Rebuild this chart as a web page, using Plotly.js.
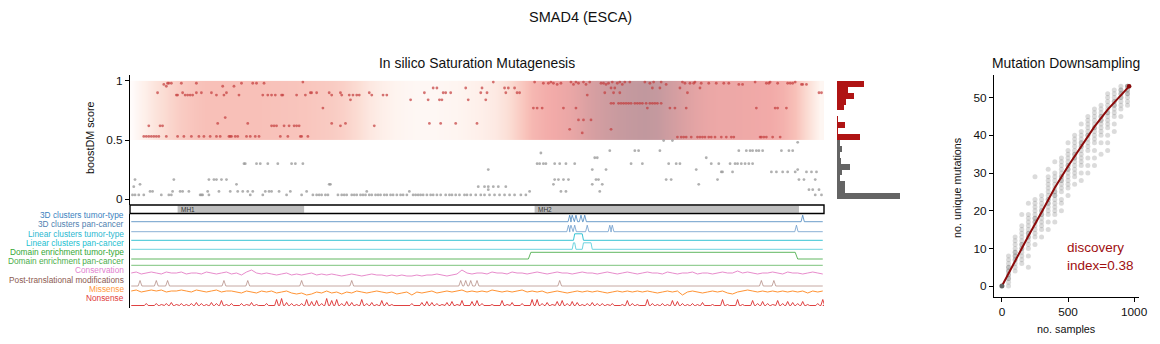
<!DOCTYPE html>
<html><head><meta charset="utf-8">
<script src="https://cdn.plot.ly/plotly-3.0.1.min.js"></script>
<style>html,body{margin:0;padding:0;background:#fff}#chart{width:1160px;height:344px}</style>
</head><body><div id="chart"></div>
<script>
const W = 1160, H = 344;
const FONT = 'Liberation Sans, Arial, sans-serif';

// ---------------- data ----------------
const proteinLength = 552;
const domainNames = ['MH1', 'MH2'];
const domainStart = [37, 322];
const domainEnd = [138, 533];

// background shading level every 10 aa (0..550)
const shadeStep = 10;
const shadeLevel = [0.02,0.12,0.24,0.34,0.42,0.47,0.5,0.5,0.5,0.5,0.5,0.49,0.48,0.47,0.46,0.44,0.42,0.38,0.3,0.2,
  0.13,0.09,0.07,0.06,0.06,0.07,0.08,0.1,0.13,0.18,0.27,0.42,0.56,0.62,0.66,0.7,0.76,0.84,0.9,0.95,
  0.98,1.0,0.97,0.88,0.8,0.74,0.7,0.68,0.68,0.67,0.66,0.65,0.6,0.5,0.28,0.07];

// saturation mutagenesis: boostDM score rows and the positions having that score
const rowScore = [0.99,0.98,0.97,0.955,0.94,0.9,0.88,0.84,0.81,0.77,0.69,0.67,0.64,0.62,0.59,0.56,0.53,0.525,
  0.495,0.48,0.41,0.39,0.35,0.30,0.25,0.23,0.165,0.125,0.105,0.08,0.065,0.035];
const rowPos = [
  [137,289,322,335,351,355,361,366,384,390,394,398,410,417,423,440,450,498,510,530],
  [29,30,32,40,52,88,97,100,106,329,333,337,343,357,375,377,381,388,414,442,446,449,455,461,467,473,477,507,509,516,524,526,528],
  [26,340,353,363,379,392,427,485,488,535,536,539],
  [28,73,82],
  [241,244,267,280,298,301,306,383,386,416,422,438,454],
  [21,41,52,56,64,76,143,144,148,158,167,190,234,249,251,255,279,284,299,308,310,378,385,390,444,549,551],
  [36,37,43,45,47,49,68,74,86,105,109,112,115,120,121,132,139,160,168,174,177,180,182,192,201,204,364],
  [175,223,237,246,248,269,283],
  [383,385,389,391,393,395,397,399,402,404,406,408,411,414,416,418,420,423],
  [153,321,324,328,345,355,412,430,434,443,499,514,516,523],
  [75],
  [357,361,367],
  [69,93,160,171,238,247,259,276],
  [14,23,25,112,114,116,122,126,130,132,134,167,194],
  [350,383],
  [360],
  [10,12,14,16,18,20,22,28,37,42,48,54,58,63,68,71,78,79,80,83,85,92,95,99,102,119,125,135,136,141],
  [436,439,441,443,447,452,454,456,458,461,463,466,471,475,479,481,502,503,505,507,512,518],
  [425,432],
  [532],
  [382,402,405,422,485,491,494,496,499,501,504,519,525,528],
  [327],
  [370,372,459],
  [90,91,100,103,109,117,128,131,137,324,326,329,331,338,342,347,354,399,408,429,435,438,463,469,478,482,484,487,490,493,496],
  [285,368,379,451,532],
  [471,472,480,511,515,520,524,530,539,543,547],
  [3,34,62,66,68,72,76,338,341,345,349,371,373,427,431,468,533,537,546],
  [7,84,158,159,337,368,376,453],
  [2,277,282,285,289,293,299],
  [285,541,544,549],
  [15,17,33,39,41,46,61,70,79,85,89,93,97,107,110,112,118,127,140,188,222,318,343,347,374],
  [1,3,6,10,24,30,32,55,56,57,62,95,105,124,136,145,148,150,152,155,157,165,168,170,172,176,178,180,183,185,187,190,192,195,197,199,202,204,207,209,212,215,217,220,225,227,229,231,233,236,239,241,244,247,251,254,256,259,262,266,268,271,275,279,282,286,290,294,298,302,306,311,315,546,551]
];

// histogram of scores (bins of 0.05 from 0 to 1, bottom to top)
const histBinWidth = 0.05;
const histCounts = [47,6,6,2,4,10,3,2,4,2,17,1,6,1,0,5,7,13,8,20];

// tracks
const trackNames = ['3D clusters tumor-type','3D clusters pan-cancer','Linear clusters tumor-type','Linear clusters pan-cancer',
  'Domain enrichment tumor-type','Domain enrichment pan-cancer','Conservation','Post-translational modifications','Missense','Nonsense'];
const clusters3dTumor = [350,352,355,359,362,536];
const clusters3dPan = [349,351,354,364,382,384,531];
const linearTumor = [[354,360]];
const linearPan = [[353,354],[361,367]];
const domainTumor = [[319,530]];
const domainPan = [];
const ptmSites = [7,20,29,74,93,136,176,263,267,271,276,342,503,513];
const trackStep = 4;
const conservation = [1,2,0,1,2,1,0,2,1,1, 2,0,1,1,0,2,1,0,1,2, 0,1,-1,2,4,1,0,1,0,-1, 0,1,-1,0,-1,0,1,-1,0,-1,
  0,-1,-2,-1,0,-1,-2,-1,0,-1, -1,-2,-1,-2,-1,-2,-2,-1,-2,-1, -1,0,-1,-2,-1,0,4,1,0,1, 1,0,2,1,1,0,2,1,1,0,
  1,2,1,0,1,2,1,1,0,1, 2,1,1,0,1,2,1,0,1,2, 1,0,1,2,1,1,0,2,1,0, 1,1,2,0,1,1,0,1,2,1,
  1,3,1,2,1,0,1,1,2,1, 0,2,1,1,0,1,2,1,0];
const missense = [1,2,0,1,2,1,2,0,1,1, 2,1,0,2,1,0,1,2,0,1, 1,0,-1,1,0,-1,1,0,1,-1, 0,1,-1,-2,-1,-3,-2,0,-1,1,
  -1,0,-2,0,-1,1,0,-1,0,1, 0,-1,0,-2,-1,0,-3,0,-1,0, 1,-1,0,1,0,1,2,0,1,0, 1,0,2,1,0,1,0,1,2,0,
  1,0,1,-1,0,1,0,-1,0,1, 0,1,0,1,0,-1,0,1,0,1, 0,1,0,1,0,-1,0,1,0,1, -3,0,1,0,-1,0,1,0,1,-1,
  -2,0,1,2,1,0,1,0,1,0, 1,0,1,0,1,-1,1,0,1];
const nonsense = [0,0,0,2,0, 2,1,2,3,1,2,1,2,3,2,1,3,2,5,1, 2,0,2,1,3,1,0,2,0,6, 7,3,2,1,2,6,4,5,2,7,
  5,6,2,4,3,1,6,2,3,1, 5,3,1,0,0,0,2,0,3,4, 3,2,1,3,4,1,5,0,4,5, 2,0,1,0,5,1,3,0,2,0,
  6,6,2,3,1,4,5,2,4,3, 1,2,3,2,2,1,2,0,1,5, 2,1,0,6,2,1,2,1,5,4, 2,1,2,1,3,0,1,0,6,1,
  0,6,1,0,5,2,4,2,1,5, 2,4,3,2,4,1,0,2,6];

// mutation downsampling
const dsSamples = [0,50,100,150,200,250,300,350,400,450,500,550,600,650,700,750,800,850,900,950,962];
const dsValues = [
  [0,0,0,0],
  [0,1,2,2,3,3,4,4,5,5,6,7,8],
  [4,5,6,7,7,8,8,9,9,10,11,12,13],
  [6,7,8,9,10,10,11,11,12,13,14,15,16,19],
  [5,8,10,11,12,13,13,14,14,15,16,17,18,19,22],
  [11,13,14,15,16,17,17,18,18,19,20,21,22,23,29],
  [13,15,16,17,18,19,19,20,20,21,22,23,24],
  [15,17,19,20,21,22,22,23,23,24,25,26,27,28,29,31],
  [17,19,20,21,22,23,24,24,25,25,26,27,28,29,30,33],
  [20,22,23,25,26,27,28,28,29,29,30,31,32,33,34],
  [24,26,27,28,29,30,31,31,32,32,33,34,35,36,38],
  [27,29,30,31,32,33,34,34,35,35,36,37,38,39,40],
  [28,30,32,33,34,35,36,37,37,38,38,39,40,41,43],
  [30,32,34,36,37,38,39,40,40,41,42,43,44,45],
  [32,34,36,38,39,40,41,42,42,43,44,45,46,47],
  [35,38,40,41,42,43,44,44,45,45,46,47,48],
  [36,38,40,42,43,44,45,46,46,47,48,49,50,51],
  [41,43,45,46,47,48,48,49,49,50,51,52],
  [45,47,48,49,50,50,51,51,52,52,53],
  [48,49,50,51,51,52,52,53,53,53],
  [53]
];
const dsCurveX = [0,100,200,300,400,500,600,700,800,900,962];
const dsCurveY = [0,6.8,13.3,19.6,26.1,31.8,37.2,42.3,46.8,50.7,53];
const discoveryIndex = 0.38;

// ---------------- layout helpers (pixels -> paper) ----------------
const fx = px => px / W;
const fy = py => 1 - py / H;

const traces = [];

// background shading heatmap (score band 0.5-1)
const shadeX = shadeLevel.map((_, i) => i * shadeStep);
traces.push({
  type: 'heatmap', x: shadeX, y: [0.5, 0.75, 1.0], z: [shadeLevel, shadeLevel],
  zmin: 0, zmax: 1, zsmooth: 'best', showscale: false, hoverinfo: 'skip',
  colorscale: [[0,'rgb(255,255,255)'],[0.1,'rgb(254,242,237)'],[0.3,'rgb(251,220,211)'],[0.5,'rgb(248,192,184)'],
    [0.65,'rgb(242,170,168)'],[0.8,'rgb(218,160,162)'],[1,'rgb(193,152,158)']],
  xaxis: 'x', yaxis: 'y'
});

// scatter points
const px = [], py = [], pc = [];
rowPos.forEach((row, r) => row.forEach(p => {
  px.push(p); py.push(rowScore[r]);
  pc.push(rowScore[r] >= 0.5 ? 'rgba(195,60,60,0.7)' : 'rgba(150,150,150,0.75)');
}));
traces.push({type:'scatter', mode:'markers', x:px, y:py, marker:{size:2.8, color:pc}, xaxis:'x', yaxis:'y', hoverinfo:'skip'});

// histogram
const histY = histCounts.map((_, i) => (i + 0.5) * histBinWidth);
traces.push({type:'bar', orientation:'h', x:histCounts, y:histY, width:histBinWidth,
  marker:{color: histY.map(v => v > 0.5 ? 'rgb(175,20,20)' : 'rgb(100,100,100)'), line:{width:0}},
  xaxis:'x4', yaxis:'y', hoverinfo:'skip'});

// tracks
const trackBase = [86.3,76.3,67.7,58.7,49,42.7,34,22,16,2.5];
const trackLine = ['rgba(60,125,185,0.75)','rgba(100,150,200,0.75)','rgb(55,195,212)','rgba(110,212,224,1)',
  'rgba(80,175,80,0.9)','rgba(110,190,110,0.9)','rgba(227,119,194,0.85)','rgba(160,110,100,0.6)','rgba(255,135,30,0.9)','rgba(220,45,45,0.9)'];
const trackLabelColor = ['#3a82c0','#4f7fb0','#2cb8d0','#22c0d0','#35a835','#4cae4c','#e27fcf','#8c5a50','#ff9a40','#e03a3a'];
const trackLabelY = [214.5,224,233.5,242.5,252,261.3,270.3,280,289.3,298];

function spikeLine(peaks, heights, base, half) {
  const xs = [0], ys = [base];
  peaks.forEach((p, k) => { xs.push(p-half, p, p+half); ys.push(base, base+heights[k], base); });
  xs.push(proteinLength); ys.push(base);
  return {xs, ys};
}
function plateauLine(regions, h, base, ramp) {
  const xs = [0], ys = [base];
  regions.forEach(([s,e]) => { xs.push(s-ramp, s, e, e+ramp); ys.push(base, base+h, base+h, base); });
  xs.push(proteinLength); ys.push(base);
  return {xs, ys};
}
function seriesLine(vals, base) {
  return {xs: vals.map((_, i) => Math.min(i*trackStep, proteinLength)), ys: vals.map(v => base + v)};
}
const sorted = a => [...a].sort((p,q)=>p-q);
const nsPos = [], nsH = [];
nonsense.forEach((v, i) => { if (v > 0) { nsPos.push(Math.min(i*trackStep, proteinLength)); nsH.push(v); } });
const trackData = [
  spikeLine(sorted(clusters3dTumor), clusters3dTumor.map(()=>6.5), trackBase[0], 1.3),
  spikeLine(sorted(clusters3dPan), clusters3dPan.map(()=>6.5), trackBase[1], 1.3),
  plateauLine(linearTumor, 6.5, trackBase[2], 1),
  plateauLine(linearPan, 6.5, trackBase[3], 1),
  plateauLine(domainTumor, 6.7, trackBase[4], 2),
  plateauLine(domainPan, 6.7, trackBase[5], 2),
  seriesLine(conservation, trackBase[6]),
  spikeLine(sorted(ptmSites), ptmSites.map(()=>5.5), trackBase[7], 1.5),
  seriesLine(missense, trackBase[8]),
  spikeLine(nsPos, nsH, trackBase[9], 1.5)
];
trackData.forEach((d, i) => traces.push({type:'scatter', mode:'lines', x:d.xs, y:d.ys,
  line:{color:trackLine[i], width:1}, xaxis:'x', yaxis:'y3', hoverinfo:'skip'}));

// downsampling
const dsx = [], dsy = [];
dsSamples.forEach((s, i) => dsValues[i].forEach(v => { dsx.push(s); dsy.push(v); }));
traces.push({type:'scatter', mode:'markers', x:dsx, y:dsy, marker:{size:5, color:'rgba(90,90,90,0.22)'}, xaxis:'x5', yaxis:'y5', hoverinfo:'skip'});
traces.push({type:'scatter', mode:'lines', x:dsCurveX, y:dsCurveY, line:{color:'rgb(140,10,10)', width:2}, xaxis:'x5', yaxis:'y5', hoverinfo:'skip'});
traces.push({type:'scatter', mode:'markers', x:[dsCurveX[dsCurveX.length-1]], y:[dsCurveY[dsCurveY.length-1]], marker:{size:4.5, color:'rgb(140,10,10)'}, xaxis:'x5', yaxis:'y5', hoverinfo:'skip'});
traces.push({type:'scatter', mode:'markers', x:[dsCurveX[0]], y:[dsCurveY[0]], marker:{size:4.5, color:'rgb(100,100,100)'}, xaxis:'x5', yaxis:'y5', hoverinfo:'skip'});

// ---------------- layout ----------------
const shapes = [
  {type:'rect', xref:'x domain', yref:'y2 domain', x0:0, x1:1, y0:0, y1:1, line:{color:'black', width:1.4}, fillcolor:'rgba(0,0,0,0)', layer:'above'}
];
const annotations = [];
domainNames.forEach((n, i) => {
  shapes.push({type:'rect', xref:'x', yref:'y2', x0:domainStart[i], x1:domainEnd[i], y0:0.08, y1:0.92, fillcolor:'rgb(190,190,190)', line:{width:0}, layer:'below'});
  annotations.push({xref:'x', yref:'y2', x:domainStart[i]+1, y:0.5, xanchor:'left', yanchor:'middle', text:n, showarrow:false, font:{family:FONT, size:6.5, color:'#333'}});
});
trackNames.forEach((n, i) => annotations.push({xref:'paper', yref:'paper', x:fx(126), y:fy(trackLabelY[i]), xanchor:'right', yanchor:'middle',
  text:n, showarrow:false, font:{family:FONT, size:8.3, color:trackLabelColor[i]}}));
const txt = (t, x, y, size, extra) => Object.assign({xref:'paper', yref:'paper', x:fx(x), y:fy(y), xanchor:'center', yanchor:'middle', text:t, showarrow:false, font:{family:FONT, size:size, color:'#111'}}, extra||{});
annotations.push(txt('SMAD4 (ESCA)', 580, 17, 14.5));
annotations.push(txt('In silico Saturation Mutagenesis', 477, 63, 13.9));
annotations.push(txt('Mutation Downsampling', 1066, 63, 13.9));
annotations.push(txt('boostDM score', 90, 138, 10.8, {textangle:-90}));
annotations.push(txt('no. unique mutations', 957, 188, 10.8, {textangle:-90}));
annotations.push(txt('no. samples', 1066, 329, 10.8));
annotations.push(txt('discovery<br>index=' + discoveryIndex, 1065, 256, 13.5, {xanchor:'left', align:'left', font:{family:FONT, size:13.5, color:'rgb(160,15,15)'}}));

const hidden = {showgrid:false, zeroline:false, showticklabels:false, ticks:'', showline:false};
const tickFont = {family:FONT, size:11.8, color:'#111'};
const layout = {
  width: W, height: H, margin:{l:0, r:0, t:0, b:0}, paper_bgcolor:'white', plot_bgcolor:'rgba(0,0,0,0)',
  showlegend:false, bargap:0, font:{family:FONT, color:'#111'},
  xaxis: Object.assign({domain:[fx(130), fx(824)], range:[-1, 553], anchor:'y'}, hidden),
  yaxis: {domain:[fy(205), fy(75)], range:[-0.05, 1.05], anchor:'x', tickvals:[0,0.5,1], ticktext:['0','0.5','1'],
    showline:true, linecolor:'black', linewidth:1, ticks:'outside', ticklen:4, tickcolor:'black', showgrid:false, zeroline:false,
    tickfont:tickFont},
  yaxis2: Object.assign({domain:[fy(213.5), fy(205)], range:[0,1], anchor:'x'}, hidden),
  yaxis3: Object.assign({}, hidden, {domain:[fy(308), fy(214)], range:[0,94], anchor:'x', showline:true, linecolor:'black', linewidth:1}),
  xaxis4: Object.assign({domain:[fx(837), fx(905)], range:[0, 51], anchor:'y'}, hidden),
  xaxis5: {domain:[fx(994), fx(1139)], range:[-60, 1037], anchor:'y5', tickvals:[0,500,1000], showline:true, linecolor:'black', linewidth:1,
    ticks:'outside', ticklen:4, tickcolor:'black', showgrid:false, zeroline:false, tickfont:tickFont},
  yaxis5: {domain:[fy(297), fy(75)], range:[-2.9, 56], anchor:'x5', tickvals:[0,10,20,30,40,50], showline:true, linecolor:'black', linewidth:1,
    ticks:'outside', ticklen:4, tickcolor:'black', showgrid:false, zeroline:false, tickfont:tickFont},
  shapes: shapes, annotations: annotations
};
Plotly.newPlot('chart', traces, layout, {displayModeBar:false, staticPlot:true});
</script></body></html>
